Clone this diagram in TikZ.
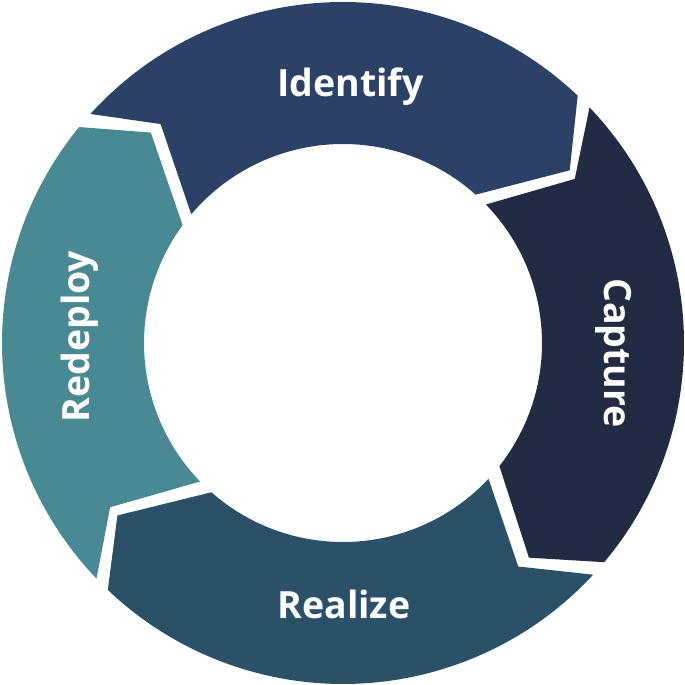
\documentclass[tikz,border=0pt]{standalone}
\usepackage{fontspec}
\setmainfont{Open Sans}
\definecolor{cIdentify}{RGB}{44,65,102}
\definecolor{cCapture}{RGB}{34,43,66}
\definecolor{cRealize}{RGB}{42,81,104}
\definecolor{cRedeploy}{RGB}{72,137,148}
\tikzset{
  lbl/.style={text=white, font=\fontsize{37.5}{44}\selectfont\bfseries, inner sep=0pt, anchor=base},
}
\newcommand{\seg}[8]{%
  % #1 color, #2 tail outer, #3 tail notch, #4 tail inner, #5 head outer, #6 head tip, #7 head inner, #8 notch/tip radius
  \fill[#1] (#2:341pt) arc[start angle=#2, end angle=#5, radius=341pt]
    -- (#6:#8) -- (#7:199pt)
    arc[start angle=#7, end angle=#4, radius=199pt]
    -- (#3:#8) -- cycle;}
\begin{document}
\begin{tikzpicture}[x=1pt,y=1pt]
\useasboundingbox (-343,-342) rectangle (342,343);
\seg{cIdentify}{137.8}{129.8}{139.7}{46.5}{37.3}{48.2}{285pt}
\seg{cCapture}{43.7}{35.3}{44.1}{-40.0}{-49.1}{-38.2}{284pt}
\seg{cRealize}{-42.8}{-51.9}{-43.0}{-133.6}{-142.6}{-131.4}{284pt}
\seg{cRedeploy}{223.7}{215.2}{224.1}{140.7}{132.4}{143.7}{285pt}
\node[lbl] (identify) at (7.5,246) {Identify};
\node[lbl, rotate=-90] (capture) at (261,-10) {Capture};
\node[lbl] (realize) at (1,-275) {Realize};
\node[lbl, rotate=90] (redeploy) at (-253,6.4) {Redeploy};
\end{tikzpicture}
\end{document}
